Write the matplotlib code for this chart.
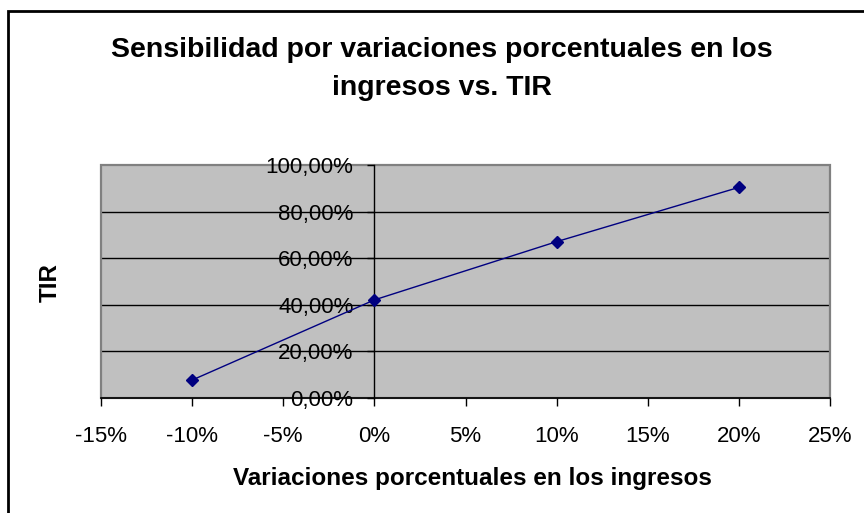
import matplotlib
matplotlib.use("Agg")
import matplotlib.pyplot as plt
from matplotlib.patches import Rectangle
from matplotlib.ticker import FuncFormatter, MultipleLocator

plt.rcParams['font.family'] = ['Liberation Sans', 'DejaVu Sans']

# Data (percent)
variacion = [-10, 0, 10, 20]
tir = [7.7, 42.1, 67.1, 90.4]

title_lines = ["Sensibilidad por variaciones porcentuales en los", "ingresos vs. TIR"]
xlabel = "Variaciones porcentuales en los ingresos"
ylabel = "TIR"

fig = plt.figure(figsize=(8.64, 5.13), dpi=100)
fig.patch.set_facecolor('white')
ax = fig.add_axes([101/864, 1-398/513, (830-101)/864, (398-165)/513])
ax.set_facecolor('#C0C0C0')

ax.set_xlim(-15, 25)
ax.set_ylim(0, 100)
ax.xaxis.set_major_locator(MultipleLocator(5))
ax.yaxis.set_major_locator(MultipleLocator(20))
ax.xaxis.set_major_formatter(FuncFormatter(lambda v, p: f"{int(round(v))}%"))
ax.yaxis.set_major_formatter(FuncFormatter(lambda v, p: f"{v:.2f}".replace('.', ',') + "%"))

for y in [20, 40, 60, 80]:
    ax.axhline(y, color='black', lw=1.0, zorder=1)

# plot border
ax.add_patch(Rectangle((0, 0), 1, 1, transform=ax.transAxes, fill=False,
                       edgecolor='#808080', lw=1.6, zorder=1.5, clip_on=False))

ax.plot(variacion, tir, color='#000080', lw=1.0, marker='D', markersize=6,
        markerfacecolor='#000080', markeredgecolor='#000080', zorder=3)

ax.spines['left'].set_position(('data', 0))
ax.spines['left'].set_color('black')
ax.spines['left'].set_linewidth(1.0)
ax.spines['bottom'].set_color('black')
ax.spines['bottom'].set_linewidth(1.2)
ax.spines['top'].set_visible(False)
ax.spines['right'].set_visible(False)

ax.tick_params(axis='x', direction='out', length=6, width=1, pad=14,
               labelsize=16, colors='black')
ax.tick_params(axis='y', direction='out', length=5, width=1, pad=10,
               labelsize=16, colors='black')

fig.text(0.5115, 1 - 56.7/513, title_lines[0], ha='center', va='baseline',
         fontsize=20.5, fontweight='bold')
fig.text(0.5115, 1 - 95/513, title_lines[1], ha='center', va='baseline',
         fontsize=20.5, fontweight='bold')
fig.text(0.547, 0.068, xlabel, ha='center', va='center', fontsize=17.5,
         fontweight='bold')
fig.text(0.058, 0.450, ylabel, ha='center', va='center', fontsize=17.5,
         fontweight='bold', rotation=90)

# outer chart border (right/bottom edges lie outside the image)
fig.patches.append(Rectangle((8/864, -0.5), 2.0, 0.5 + 1 - 11/513,
                             transform=fig.transFigure, fill=False,
                             edgecolor='black', lw=2.0, zorder=10))

fig.savefig("out.png", dpi=100)
